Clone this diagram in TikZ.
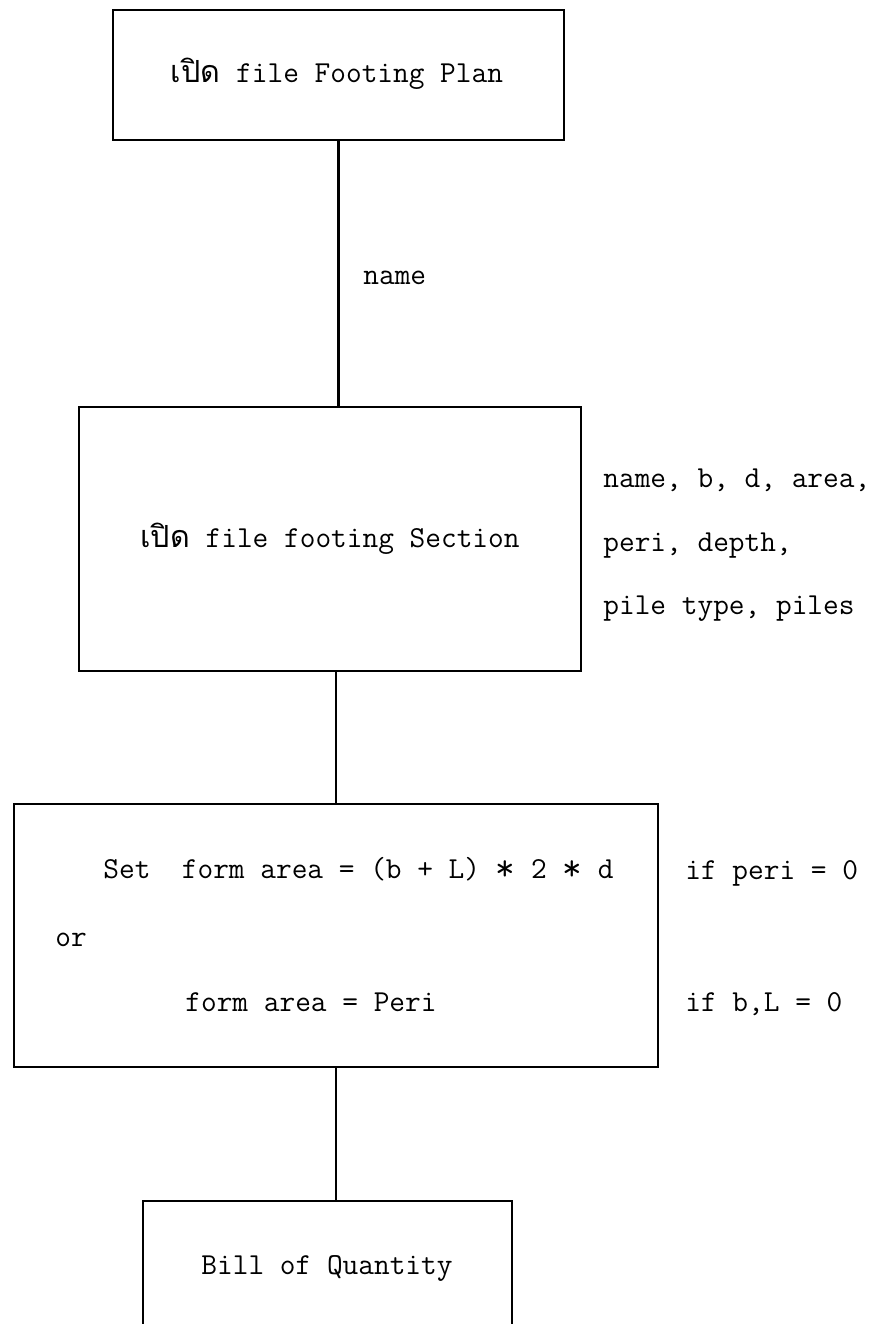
\documentclass[tikz,border=0pt]{standalone}
\usepackage{fontspec}
\newfontfamily\thaifont[Script=Thai]{Loma}
\newcommand\thaiword[1]{{\thaifont #1}}
\newcommand\mult{\raisebox{-0.15ex}{\scalebox{1.25}{*}}}
\begin{document}
\begin{tikzpicture}[x=0.5pt,y=-0.5pt,
  txt/.style={font=\ttfamily\fontsize{15.24}{18}\selectfont, inner sep=0pt, text=black},
  flowbox/.style={draw, line width=1.2pt, inner sep=0pt},
  link/.style={line width=1.2pt}]
\useasboundingbox (0,0) rectangle (880,1324);
\clip (0,0) rectangle (880,1324);

% process boxes
\node[flowbox, minimum width=225.5pt, minimum height=65pt]  (plan)    at (338.5,75)   {};
\node[flowbox, minimum width=251pt,   minimum height=132pt] (section) at (330,539)    {};
\node[flowbox, minimum width=322pt,   minimum height=131.5pt] (setform) at (336,935.5) {};
\node[flowbox, minimum width=184.5pt, minimum height=79.5pt] (bill)    at (327.5,1280.5) {};

% box captions
\node[txt, anchor=mid] (plantext) at (337,78) {\thaiword{เปิด} file Footing Plan};
\node[txt, anchor=mid] (sectiontext) at (330,543) {\thaiword{เปิด} file footing Section};
\node[txt, anchor=mid] (billtext) at (327,1270) {Bill of Quantity};

% formula lines
\node[txt, anchor=mid west] (formula1) at (103,874) {Set\ \ form area = (b + L) \mult{} 2 \mult{} d};
\node[txt, anchor=mid west] (orword) at (55,942) {or};
\node[txt, anchor=mid west] (formula2) at (185,1007) {form area = Peri};
\node[txt, anchor=mid west] (cond1) at (685,875) {if peri = 0};
\node[txt, anchor=mid west] (cond2) at (685,1007) {if b,L = 0};

% data passed along the links
\node[txt, anchor=mid west] (namelabel) at (363,280) {name};
\node[txt, anchor=mid west] (fields1) at (603,483) {name, b, d, area,};
\node[txt, anchor=mid west] (fields2) at (603,547) {peri, depth,};
\node[txt, anchor=mid west] (fields3) at (603,610) {pile type, piles};

% connectors
\draw[link] (plan.south) -- (plan.south |- section.north);
\draw[link] (setform.north |- section.south) -- (setform.north);
\draw[link] (setform.south) -- (setform.south |- bill.north);
\end{tikzpicture}
\end{document}
